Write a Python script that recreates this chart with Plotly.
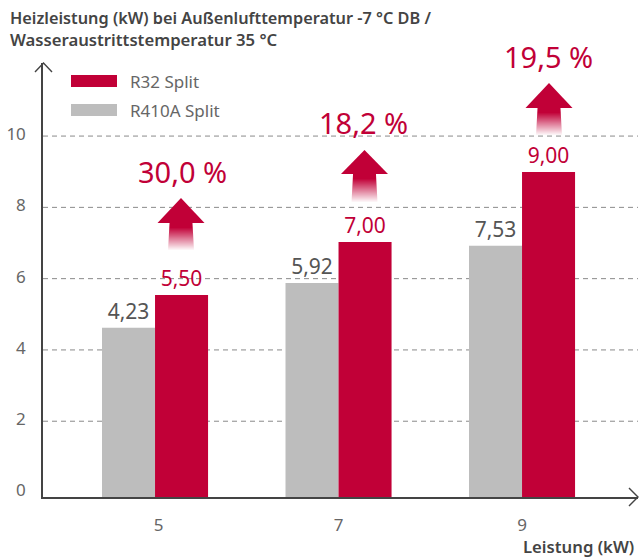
import plotly.graph_objects as go

capacities = [5, 7, 9]
tick_positions = [5.04, 7, 9]
r410a_heights = [4.62, 5.88, 6.92]
r32_heights = [5.54, 7.03, 8.99]
r410a_labels = ["4,23", "5,92", "7,53"]
r32_labels = ["5,50", "7,00", "9,00"]
gains = ["30,0 %", "18,2 %", "19,5 %"]
y_ticks = [0, 2, 4, 6, 8, 10]
grid_values = [2, 4, 6, 8, 10]
title_lines = ["Heizleistung (kW) bei Außenlufttemperatur -7 °C DB /",
               "Wasseraustrittstemperatur 35 °C"]

W, H = 641, 558
L, R, T, B = 43, 638, 63, 497
RED, GREY, DARK, MID = "#C10037", "#BDBDBD", "#444444", "#666666"
FONT = "Noto Sans"
BASE = -0.126


def px(x):
    return (x - L) / (R - L)


def py(y):
    return (B - y) / (B - T)


fig = go.Figure()
fig.add_bar(x=capacities, y=[v - BASE for v in r410a_heights], base=BASE, marker_color=GREY,
            marker_line_width=0, text=r410a_labels, textposition="outside", cliponaxis=False,
            textfont=dict(color="#555555", size=21, family=FONT), name="R410A Split")
fig.add_bar(x=capacities, y=[v - BASE for v in r32_heights], base=BASE, marker_color=RED,
            marker_line_width=0, text=r32_labels, textposition="outside", cliponaxis=False,
            textfont=dict(color=RED, size=21, family=FONT), name="R32 Split")

shapes = []
annotations = []


def note(x, y, text, size, color, anchor="left", weight=None):
    annotations.append(dict(xref="paper", yref="paper", x=px(x), y=py(y), text=text, showarrow=False,
                            xanchor=anchor, yanchor="middle",
                            font=dict(size=size, color=color, family=FONT, weight=weight)))


def rect(x0, y0, x1, y1, color, opacity=1.0):
    shapes.append(dict(type="rect", xref="paper", yref="paper", x0=px(x0), x1=px(x1), y0=py(y0), y1=py(y1),
                       fillcolor=color, opacity=opacity, line_width=0, layer="above"))


def polyline(points, fill=None, color=DARK, width=1.4):
    path = "M" + " L".join(f"{px(a):.5f},{py(b):.5f}" for a, b in points)
    if fill:
        path += " Z"
    shapes.append(dict(type="path", xref="paper", yref="paper", path=path, fillcolor=fill,
                       line=dict(color=color, width=width) if not fill else dict(width=0), layer="above"))


for v in grid_values:
    shapes.append(dict(type="line", xref="paper", yref="y", x0=0, x1=1, y0=v, y1=v, layer="below",
                       line=dict(color="#8A8A8A", width=1, dash="5px,4px")))

# axis arrow tips
polyline([(35, 72), (43.5, 63), (52, 72)])
polyline([(629, 488), (638, 497), (629, 506)])

# legend
rect(71, 75, 117, 87, RED)
rect(71, 104, 117, 116, GREY)
note(128, 82, "R32 Split", 17, MID)
note(128, 110, "R410A Split", 17, MID)

# gain arrows: (centre x, apex y, shoulder y, bottom y)
arrows = [(181, 198, 223, 250), (364.5, 150, 174, 202), (549, 83, 108, 135)]
for (cx, apex, shoulder, bottom), gain, tx, ty in zip(arrows, gains, [182, 363.5, 548], [171, 122, 56]):
    polyline([(cx, apex), (cx + 23.5, shoulder), (cx - 23.5, shoulder)], fill=RED)
    rows = int(bottom - shoulder)
    for i in range(rows):
        t = i / rows
        half = 11.5 + 1.5 * t
        op = 1.0 if t < 0.15 else max(0.04, 1 - (t - 0.15) / 0.85)
        rect(cx - half, shoulder + i, cx + half, shoulder + i + 1, RED, op)
    note(tx, ty, gain, 29, RED, anchor="center")

note(8, 18, title_lines[0], 16.3, DARK, weight=600)
note(8, 40, title_lines[1], 16.7, DARK, weight=600)
note(636, 546.5, "Leistung (kW)", 16.7, DARK, anchor="right", weight=600)

fig.update_layout(
    width=W, height=H, autosize=False,
    margin=dict(l=L, r=W - R, t=T, b=H - B, pad=0),
    paper_bgcolor="white", plot_bgcolor="white",
    barmode="group", bargap=0.422, bargroupgap=0, showlegend=False,
    font=dict(family=FONT, color=MID),
    shapes=shapes, annotations=annotations,
    xaxis=dict(range=[3.779, 10.264], tickmode="array", tickvals=tick_positions, ticktext=[str(c) for c in capacities],
               showgrid=False, zeroline=False, showline=True, linecolor=DARK, linewidth=1.5, ticks="",
               tickfont=dict(size=17, color=MID, family=FONT), ticklabelstandoff=12),
    yaxis=dict(range=[BASE, 12.05], tickmode="array", tickvals=y_ticks, ticktext=[str(t) for t in y_ticks],
               showgrid=False, zeroline=False, showline=True, linecolor=DARK, linewidth=1.5, ticks="",
               tickfont=dict(size=17, color=MID, family=FONT), ticklabelstandoff=12, ticklabelshift=-2),
)
fig.write_html("out.html", config={"displayModeBar": False},
               post_script="document.body.style.margin='0';document.body.style.overflow='hidden';")
